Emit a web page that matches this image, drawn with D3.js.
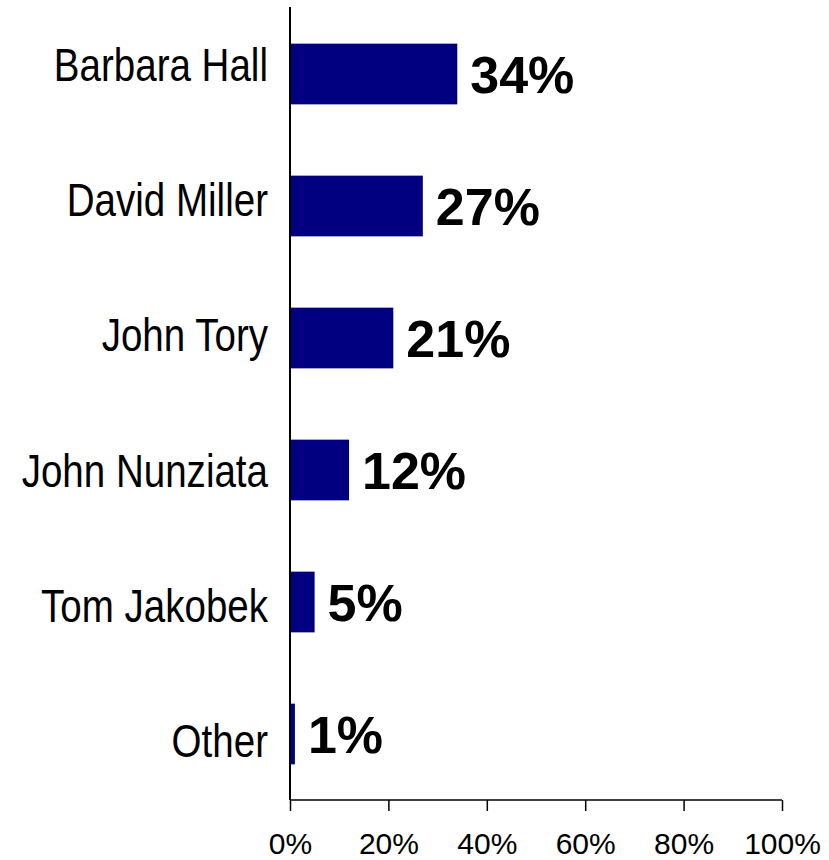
<!DOCTYPE html>
<html>
<head>
<meta charset="utf-8">
<script src="https://cdn.jsdelivr.net/npm/d3@7"></script>
<style>
html, body { margin: 0; padding: 0; background: #fff; }
svg { display: block; }
</style>
</head>
<body>
<svg id="chart" width="829" height="860"></svg>
<script>
const categories = ["Barbara Hall", "David Miller", "John Tory", "John Nunziata", "Tom Jakobek", "Other"];
const values = [34, 27, 21, 12, 5, 1];
const tickValues = [0, 20, 40, 60, 80, 100];
const tickLabels = ["0%", "20%", "40%", "60%", "80%", "100%"];

const svg = d3.select("#chart");
const x = d3.scaleLinear().domain([0, 100]).range([290, 782]);
const y = d3.scaleBand().domain(categories).range([8, 800]).paddingInner(0.54).paddingOuter(0.27);
// category label baselines (text placed slightly differently from bars in the original)
const yLabel = d3.scalePoint().domain(categories).range([81, 757]);

// bars
svg.append("g").selectAll("rect").data(categories).join("rect")
  .attr("x", x(0))
  .attr("y", d => y(d))
  .attr("width", (d, i) => x(values[i]) - x(0))
  .attr("height", y.bandwidth())
  .attr("fill", "#000080");

// value labels
svg.append("g").selectAll("text").data(categories).join("text")
  .attr("x", (d, i) => x(values[i]) + 13)
  .attr("y", d => y(d) + y.bandwidth() / 2 + 19)
  .attr("font-family", "'Liberation Sans', Arial, sans-serif")
  .attr("font-weight", "bold")
  .attr("font-size", 52)
  .attr("fill", "#000")
  .text((d, i) => values[i] + "%");

// category labels
const catG = svg.append("g");
const catText = catG.selectAll("text").data(categories).join("text")
  .attr("x", 268)
  .attr("y", d => yLabel(d))
  .attr("text-anchor", "end")
  .attr("font-family", "'Liberation Sans Narrow', 'Arial Narrow', 'Liberation Sans', Arial, sans-serif")
  .attr("font-size", 47)
  .attr("fill", "#000")
  .text(d => d);

// fallback if narrow font missing
(function () {
  const c = document.createElement("canvas").getContext("2d");
  c.font = "47px 'Liberation Sans'";
  catText.each(function (d) {
    const w = this.getComputedTextLength();
    const ref = c.measureText(d).width;
    if (ref > 0 && w / ref > 0.92) {
      const yy = +this.getAttribute("y");
      this.setAttribute("transform", `translate(268,${yy}) scale(0.82,1) translate(-268,${-yy})`);
    }
  });
})();

// x axis
const xAxis = d3.axisBottom(x).tickValues(tickValues).tickSize(11).tickFormat((d, i) => tickLabels[i]);
const gx = svg.append("g").attr("transform", "translate(0,800)").call(xAxis);
gx.select(".domain").attr("d", `M${x(0)},0H${x(100)}`).attr("stroke", "#000").attr("stroke-width", 1.5);
gx.selectAll(".tick line").attr("stroke", "#000").attr("stroke-width", 1.5);
gx.selectAll(".tick text")
  .attr("y", 54).attr("dy", 0)
  .attr("font-family", "'Liberation Sans', Arial, sans-serif")
  .attr("font-size", 30)
  .attr("fill", "#000");

// y axis line
const yAxis = d3.axisLeft(y).tickSize(0).tickFormat("");
const gy = svg.append("g").attr("transform", `translate(${x(0)},0)`).call(yAxis);
gy.select(".domain").attr("d", "M0,7V800").attr("stroke", "#000").attr("stroke-width", 2);
</script>
</body>
</html>
